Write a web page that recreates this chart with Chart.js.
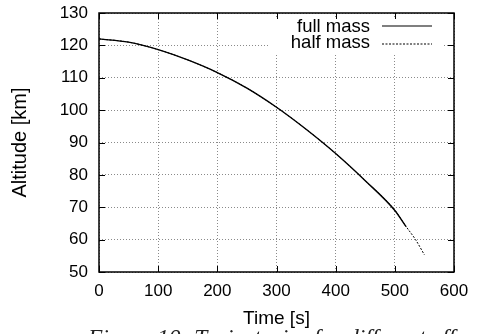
<!DOCTYPE html>
<html>
<head>
<meta charset="utf-8">
<script src="https://cdn.jsdelivr.net/npm/chart.js@4.4.1/dist/chart.umd.min.js"></script>
<style>
  html, body { margin: 0; padding: 0; background: #fff; overflow: hidden; }
  #wrap { position: relative; width: 477px; height: 334px; overflow: hidden; }
  #caption {
    position: absolute; left: 88px; top: 324px; white-space: nowrap;
    font-family: "Liberation Serif", serif; font-style: italic; font-size: 23.5px; color: #222;
  }
</style>
</head>
<body>
<div id="wrap">
  <canvas id="trajChart" width="477" height="334"></canvas>
  <div id="caption">Figure 10: Trajectories for different effective</div>
</div>
<script>
// values
const fullTime = [0, 50, 100, 150, 200, 250, 300, 350, 400, 450, 500, 519];
const fullAlt = [122, 121, 118.7, 115.5, 111.6, 106.8, 100.9, 94.1, 86.6, 78.2, 69.0, 64.0];
const halfTime = [0, 50, 100, 150, 200, 250, 300, 350, 400, 450, 500, 520, 535, 550];
const halfAlt = [122, 121, 118.7, 115.5, 111.6, 106.8, 100.9, 94.1, 86.6, 78.2, 69.1, 63.8, 60, 55.3];
const seriesNames = ['full mass', 'half mass'];
const xTicks = [0, 100, 200, 300, 400, 500, 600];
const yTicks = [50, 60, 70, 80, 90, 100, 110, 120, 130];

const FONT = '"Liberation Sans", Arial, sans-serif';

function pts(xs, ys) {
    return xs.map((x, i) => ({ x: x, y: ys[i] }));
}

// gnuplot style: box border, inward ticks on all sides, legend box inside
const gnuplotFrame = {
    id: 'gnuplotFrame',
    beforeDatasetsDraw(chart) {
        const { ctx, chartArea: a, scales } = chart;
        ctx.save();
        // legend background hides the grid
        ctx.fillStyle = '#fff';
        ctx.fillRect(269, a.top + 4, 173, 36);
        ctx.font = '18.5px ' + FONT;
        ctx.fillStyle = '#000';
        ctx.textAlign = 'right';
        ctx.textBaseline = 'middle';
        ctx.fillText(seriesNames[0], 370, 27);
        ctx.fillText(seriesNames[1], 370, 43);
        ctx.strokeStyle = '#000';
        ctx.lineWidth = 1.2;
        ctx.beginPath();
        ctx.moveTo(382, 26); ctx.lineTo(432, 26);
        ctx.stroke();
        ctx.lineWidth = 1;
        ctx.setLineDash([2, 1.5]);
        ctx.beginPath();
        ctx.moveTo(382, 44); ctx.lineTo(432, 44);
        ctx.stroke();
        ctx.setLineDash([]);

        // ticks
        ctx.lineWidth = 1;
        ctx.beginPath();
        xTicks.forEach(v => {
            const px = Math.round(scales.x.getPixelForValue(v)) + 0.5;
            ctx.moveTo(px, a.bottom); ctx.lineTo(px, a.bottom - 6);
            ctx.moveTo(px, a.top); ctx.lineTo(px, a.top + 6);
        });
        yTicks.forEach(v => {
            const py = Math.round(scales.y.getPixelForValue(v)) + 0.5;
            ctx.moveTo(a.left, py); ctx.lineTo(a.left + 6, py);
            ctx.moveTo(a.right, py); ctx.lineTo(a.right - 6, py);
        });
        ctx.stroke();

        ctx.lineWidth = 1.5;
        ctx.strokeRect(a.left, a.top, a.right - a.left, a.bottom - a.top);
        ctx.restore();
    }
};

function initChart() {
    const ctx = document.getElementById('trajChart')?.getContext('2d');
    if (!ctx) return;

    new Chart(ctx, {
        type: 'scatter',
        data: {
            datasets: [{
                label: seriesNames[0],
                data: pts(fullTime, fullAlt),
                showLine: true,
                borderColor: '#000',
                borderWidth: 1.4,
                pointRadius: 0,
                cubicInterpolationMode: 'monotone'
            }, {
                label: seriesNames[1],
                data: pts(halfTime, halfAlt),
                showLine: true,
                borderColor: '#000',
                borderWidth: 1,
                borderDash: [2, 1.5],
                pointRadius: 0,
                cubicInterpolationMode: 'monotone'
            }]
        },
        options: {
            responsive: false,
            animation: false,
            layout: { padding: { top: 13, right: 23, left: 0, bottom: 0 } },
            plugins: { legend: { display: false }, tooltip: { enabled: false } },
            scales: {
                x: {
                    type: 'linear',
                    min: 0, max: 600,
                    afterBuildTicks: s => { s.ticks = xTicks.map(v => ({ value: v })); },
                    afterFit: s => { s.height = 62; s.paddingLeft = 0; s.paddingRight = 0; },
                    grid: { color: '#8a8a8a', drawTicks: false },
                    border: { display: false, dash: [1, 2] },
                    ticks: { color: '#000', padding: 9, font: { family: FONT, size: 17 }, maxRotation: 0 },
                    title: { display: true, text: 'Time [s]', color: '#000', font: { family: FONT, size: 19 }, padding: { top: 4, bottom: 4 } }
                },
                y: {
                    min: 50, max: 130,
                    afterBuildTicks: s => { s.ticks = yTicks.map(v => ({ value: v })); },
                    afterFit: s => { s.width = 99; s.paddingTop = 0; s.paddingBottom = 0; },
                    grid: { color: '#8a8a8a', drawTicks: false },
                    border: { display: false, dash: [1, 2] },
                    ticks: { color: '#000', padding: 11, font: { family: FONT, size: 17 } },
                    title: { display: true, text: 'Altitude [km]', color: '#000', font: { family: FONT, size: 20 }, padding: { top: 8, bottom: 0 } }
                }
            }
        },
        plugins: [gnuplotFrame]
    });
}

document.addEventListener('DOMContentLoaded', () => {
    initChart();
});
</script>
</body>
</html>
